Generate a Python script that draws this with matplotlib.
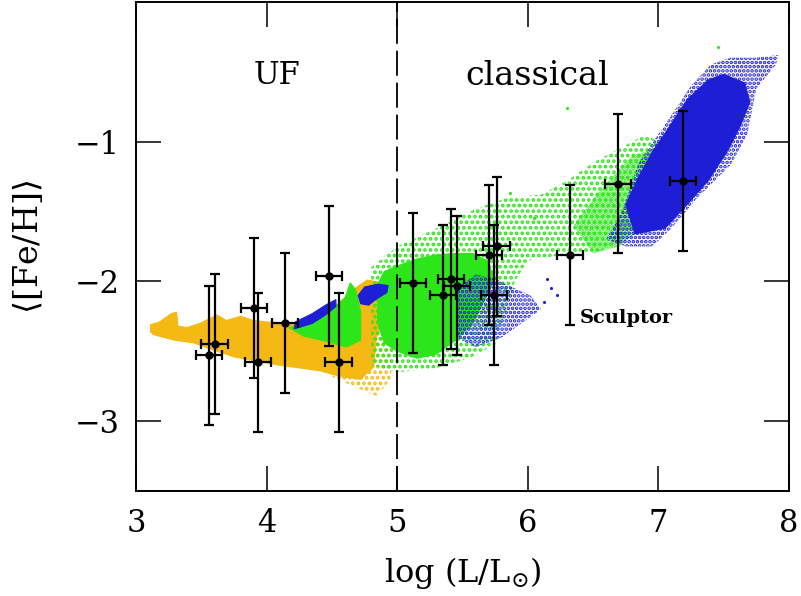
import matplotlib
matplotlib.use('Agg')
import matplotlib.pyplot as plt

# --- galaxy measurements (log L, <[Fe/H]>) with errors ---
gal_logL = [3.56, 3.60, 3.90, 3.93, 4.14, 4.48, 4.55,
            5.12, 5.35, 5.41, 5.46, 5.70, 5.76, 5.74,
            6.32, 6.69, 7.19]
gal_feh = [-2.53, -2.45, -2.19, -2.58, -2.30, -1.96, -2.58,
           -2.01, -2.10, -1.98, -2.03, -1.81, -1.75, -2.10,
           -1.81, -1.30, -1.28]
gal_xerr = [0.10, 0.10, 0.10, 0.10, 0.10, 0.10, 0.10,
            0.10, 0.10, 0.10, 0.10, 0.10, 0.10, 0.10,
            0.10, 0.10, 0.10]
gal_yerr = [0.50, 0.50, 0.50, 0.50, 0.50, 0.50, 0.50,
            0.50, 0.50, 0.50, 0.50, 0.50, 0.50, 0.50,
            0.50, 0.50, 0.50]

# --- model cloud outlines (x = log L, y = <[Fe/H]>) ---
yellow_core_x = [3.11, 3.11, 3.18, 3.27, 3.31, 3.32, 3.39, 3.49, 3.62, 3.69, 3.80, 3.90, 4.00,
                 4.15, 4.36, 4.66, 4.77, 4.89, 4.92, 4.84, 4.82, 4.72, 4.56, 4.41, 4.26,
                 4.10, 3.92, 3.75, 3.59, 3.44, 3.29, 3.13]
yellow_core_y = [-2.36, -2.31, -2.29, -2.23, -2.22, -2.32, -2.33, -2.30, -2.24, -2.28, -2.25, -2.28, -2.29,
                 -2.30, -2.32, -2.06, -1.99, -2.01, -2.23, -2.40, -2.61, -2.70, -2.68, -2.64, -2.62,
                 -2.60, -2.57, -2.54, -2.49, -2.44, -2.42, -2.38]
yellow_halo_x = [4.50, 4.66, 4.84, 4.95, 4.97, 4.84, 4.70]
yellow_halo_y = [-2.68, -2.75, -2.82, -2.70, -2.42, -2.38, -2.60]

green_left_x = [4.17, 4.26, 4.51, 4.60, 4.64, 4.68, 4.72, 4.72, 4.61, 4.46, 4.28]
green_left_y = [-2.33, -2.31, -2.19, -2.12, -2.01, -2.06, -2.22, -2.42, -2.47, -2.43, -2.39]
green_core_x = [4.85, 4.90, 5.00, 5.15, 5.30, 5.45, 5.58, 5.70, 5.74, 5.66, 5.58, 5.45,
                5.30, 5.15, 5.00, 4.90, 4.85]
green_core_y = [-2.02, -1.93, -1.89, -1.84, -1.81, -1.80, -1.80, -1.86, -2.00, -2.15, -2.30, -2.42,
                -2.52, -2.55, -2.50, -2.44, -2.30]
green_halo_x = [4.80, 5.00, 5.30, 5.60, 5.85, 6.10, 6.30, 6.50, 6.70, 6.90, 7.00,
                7.00, 6.90, 6.70, 6.50, 6.20, 6.00, 5.90, 5.75, 5.55, 5.30, 5.00, 4.80]
green_halo_y = [-1.90, -1.75, -1.62, -1.48, -1.40, -1.38, -1.28, -1.15, -1.05, -0.95, -1.00,
                -1.30, -1.50, -1.72, -1.80, -1.82, -1.85, -2.00, -2.45, -2.55, -2.62, -2.65, -2.60]
green_right_x = [6.35, 6.55, 6.80, 6.98, 7.00, 6.90, 6.70, 6.50]
green_right_y = [-1.60, -1.35, -1.10, -1.05, -1.35, -1.60, -1.75, -1.80]

blue_streak_x = [4.21, 4.35, 4.45, 4.53, 4.53, 4.45, 4.35, 4.22]
blue_streak_y = [-2.34, -2.30, -2.24, -2.18, -2.13, -2.17, -2.23, -2.29]
blue_blob_x = [4.70, 4.75, 4.85, 4.93, 4.92, 4.85, 4.78, 4.72]
blue_blob_y = [-2.10, -2.04, -2.02, -2.03, -2.08, -2.12, -2.17, -2.16]
blue_mid_x = [5.45, 5.60, 5.75, 5.90, 6.02, 6.10, 5.95, 5.80, 5.60, 5.45]
blue_mid_y = [-2.05, -1.95, -1.98, -2.05, -2.10, -2.20, -2.30, -2.40, -2.47, -2.40]
blue_top_x = [6.82, 7.05, 7.22, 7.38, 7.52, 7.62, 7.70, 7.66, 7.50, 7.38, 7.22, 7.08,
              6.95, 6.85, 6.75]
blue_top_y = [-1.66, -1.62, -1.45, -1.28, -1.08, -0.90, -0.72, -0.58, -0.52, -0.56, -0.70, -0.90,
              -1.08, -1.25, -1.45]
blue_halo_x = [6.75, 6.60, 6.72, 6.85, 7.05, 7.25, 7.40, 7.55, 7.75, 7.92, 7.90, 7.75,
               7.68, 7.55, 7.30, 7.10, 6.95]
blue_halo_y = [-1.75, -1.70, -1.50, -1.15, -0.88, -0.60, -0.45, -0.40, -0.40, -0.38, -0.45, -0.62,
               -0.95, -1.17, -1.40, -1.62, -1.75]

# a few stray model points
green_stray_x = [6.30, 7.46, 5.86, 6.05]
green_stray_y = [-0.76, -0.32, -1.37, -1.55]
blue_stray_x = [6.15, 6.18, 6.12, 6.22]
blue_stray_y = [-1.98, -2.05, -2.15, -2.10]

YELLOW = '#F5B914'
GREEN = '#2CE619'
BLUE = '#1E1ED7'

plt.rcParams['font.family'] = 'DejaVu Serif'
plt.rcParams['mathtext.fontset'] = 'dejavuserif'
plt.rcParams['hatch.linewidth'] = 1.8
plt.rcParams['lines.scale_dashes'] = False

fig = plt.figure(figsize=(8.01, 5.96), dpi=100)
ax = fig.add_axes([0.170, 0.176, 0.815, 0.821])


def cloud(xs, ys, color, hatch=None, z=1):
    if hatch:
        ax.fill(xs, ys, facecolor='none', edgecolor=color, hatch=hatch,
                linewidth=0, zorder=z)
    else:
        ax.fill(xs, ys, facecolor=color, edgecolor=color, linewidth=0.8, zorder=z)


# yellow, then green, then blue on top
cloud(yellow_halo_x, yellow_halo_y, YELLOW, hatch='...', z=1)
cloud(yellow_core_x, yellow_core_y, YELLOW, z=1.1)
cloud(green_halo_x, green_halo_y, GREEN, hatch='...', z=2)
cloud(green_right_x, green_right_y, GREEN, hatch='.....', z=2.1)
cloud(green_left_x, green_left_y, GREEN, z=2.2)
cloud(green_core_x, green_core_y, GREEN, z=2.2)
ax.scatter(green_stray_x, green_stray_y, s=5, color=GREEN, zorder=2.3, linewidths=0)
cloud(blue_mid_x, blue_mid_y, BLUE, hatch='....', z=3)
cloud(blue_halo_x, blue_halo_y, BLUE, hatch='....', z=3)
ax.scatter(blue_stray_x, blue_stray_y, s=5, color=BLUE, zorder=3, linewidths=0)
cloud(blue_top_x, blue_top_y, BLUE, z=3.1)
cloud(blue_streak_x, blue_streak_y, BLUE, z=3.1)
cloud(blue_blob_x, blue_blob_y, BLUE, z=3.1)

# UF / classical divide
ax.axvline(5.0, color='black', linewidth=1.3, dashes=(18, 5), zorder=4)

# observed galaxies
ax.errorbar(gal_logL, gal_feh, xerr=gal_xerr, yerr=gal_yerr, fmt='o',
            color='black', markersize=5, elinewidth=1.6, capsize=3.5,
            capthick=1.6, zorder=5)

ax.text(4.08, -0.53, 'UF', fontsize=22, ha='center', va='center')
ax.text(6.07, -0.53, 'classical', fontsize=24, ha='center', va='center')
ax.text(6.40, -2.26, 'Sculptor', fontsize=14, ha='left', va='center',
        fontweight='bold')

ax.set_xlim(3, 8)
ax.set_ylim(-3.5, 0)
ax.set_xticks([3, 4, 5, 6, 7, 8])
ax.set_yticks([-1, -2, -3])
ax.set_yticklabels(['\u22121', '\u22122', '\u22123'])
ax.tick_params(direction='in', length=18, width=1.1, labelsize=22,
               top=True, right=True, pad=12)
ax.minorticks_off()
for spine in ax.spines.values():
    spine.set_linewidth(1.4)

ax.set_xlabel(r'log (L/L$_{\odot}$)', fontsize=23, labelpad=12)
ax.set_ylabel(r'$\langle$[Fe/H]$\rangle$', fontsize=24)
ax.yaxis.set_label_coords(-0.14, 0.5)

fig.savefig('out.png', dpi=100)
plt.close(fig)
